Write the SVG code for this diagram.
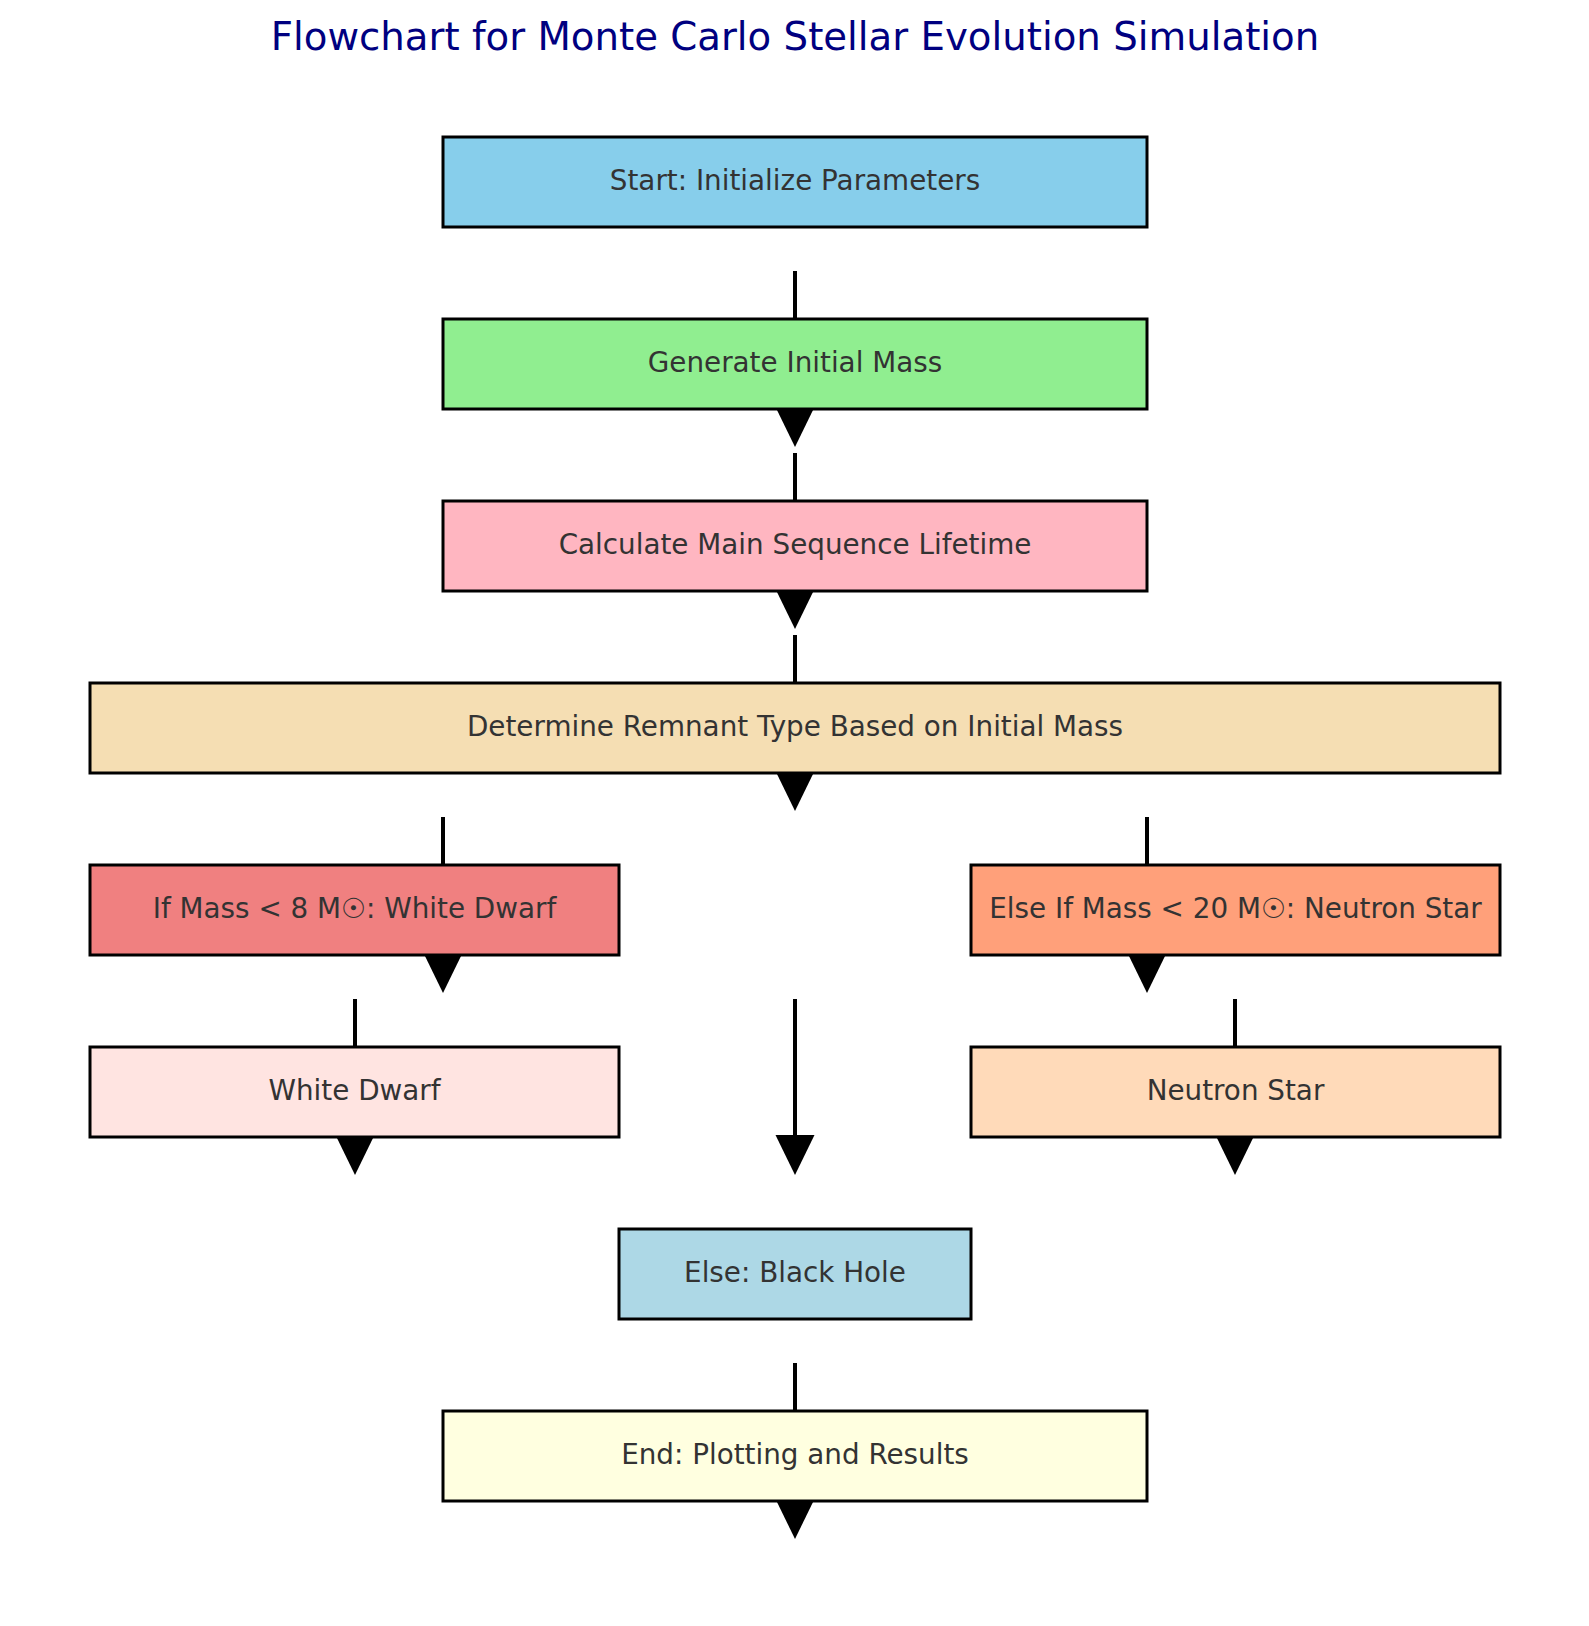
<svg xmlns="http://www.w3.org/2000/svg" width="1589" height="1626" viewBox="0 0 1589 1626">
<style>
  .box { stroke: #000000; stroke-width: 3; }
  .lbl { font-family: "DejaVu Sans", sans-serif; font-size: 27.8px; fill: #333333; text-anchor: middle; }
  .title { font-family: "DejaVu Sans", sans-serif; font-size: 38.7px; fill: #000080; text-anchor: middle; }
  .shaft { stroke: #000000; stroke-width: 4; fill: none; }
  .head { fill: #000000; }
</style>
<rect x="0" y="0" width="1589" height="1626" fill="#ffffff"/>
<text class="title" x="795" y="50">Flowchart for Monte Carlo Stellar Evolution Simulation</text>

<g id="connectors">
  <g id="a1"><line class="shaft" x1="795" y1="271" x2="795" y2="408"/><polygon class="head" points="775.5,407 814.5,407 795,447"/></g>
  <g id="a2"><line class="shaft" x1="795" y1="453" x2="795" y2="590"/><polygon class="head" points="775.5,589 814.5,589 795,629"/></g>
  <g id="a3"><line class="shaft" x1="795" y1="635" x2="795" y2="772"/><polygon class="head" points="775.5,771 814.5,771 795,811"/></g>
  <g id="a4"><line class="shaft" x1="443" y1="817" x2="443" y2="954"/><polygon class="head" points="423.5,953 462.5,953 443,993"/></g>
  <g id="a5"><line class="shaft" x1="1147" y1="817" x2="1147" y2="954"/><polygon class="head" points="1127.5,953 1166.5,953 1147,993"/></g>
  <g id="a6"><line class="shaft" x1="355" y1="999" x2="355" y2="1136"/><polygon class="head" points="335.5,1135 374.5,1135 355,1175"/></g>
  <g id="a7"><line class="shaft" x1="1235" y1="999" x2="1235" y2="1136"/><polygon class="head" points="1215.5,1135 1254.5,1135 1235,1175"/></g>
  <g id="a8"><line class="shaft" x1="795" y1="999" x2="795" y2="1136"/><polygon class="head" points="775.5,1135 814.5,1135 795,1175"/></g>
  <g id="a9"><line class="shaft" x1="795" y1="1363" x2="795" y2="1500"/><polygon class="head" points="775.5,1499 814.5,1499 795,1539"/></g>
</g>

<g id="start"><rect class="box" x="443" y="137" width="704" height="90" fill="#87CEEB"/><text class="lbl" x="795" y="190">Start: Initialize Parameters</text></g>
<g id="generate"><rect class="box" x="443" y="319" width="704" height="90" fill="#90EE90"/><text class="lbl" x="795" y="372">Generate Initial Mass</text></g>
<g id="lifetime"><rect class="box" x="443" y="501" width="704" height="90" fill="#FFB6C1"/><text class="lbl" x="795" y="554">Calculate Main Sequence Lifetime</text></g>
<g id="determine"><rect class="box" x="90" y="683" width="1410" height="90" fill="#F5DEB3"/><text class="lbl" x="795" y="736">Determine Remnant Type Based on Initial Mass</text></g>
<g id="ifwd"><rect class="box" x="90" y="865" width="529" height="90" fill="#F08080"/><text class="lbl" x="354.5" y="918">If Mass &lt; 8 M☉: White Dwarf</text></g>
<g id="elifns"><rect class="box" x="971" y="865" width="529" height="90" fill="#FFA07A"/><text class="lbl" x="1235.5" y="918">Else If Mass &lt; 20 M☉: Neutron Star</text></g>
<g id="wd"><rect class="box" x="90" y="1047" width="529" height="90" fill="#FFE4E1"/><text class="lbl" x="354.5" y="1100">White Dwarf</text></g>
<g id="ns"><rect class="box" x="971" y="1047" width="529" height="90" fill="#FFDAB9"/><text class="lbl" x="1235.5" y="1100">Neutron Star</text></g>
<g id="bh"><rect class="box" x="619" y="1229" width="352" height="90" fill="#ADD8E6"/><text class="lbl" x="795" y="1282">Else: Black Hole</text></g>
<g id="end"><rect class="box" x="443" y="1411" width="704" height="90" fill="#FFFFE0"/><text class="lbl" x="795" y="1464">End: Plotting and Results</text></g>
</svg>
